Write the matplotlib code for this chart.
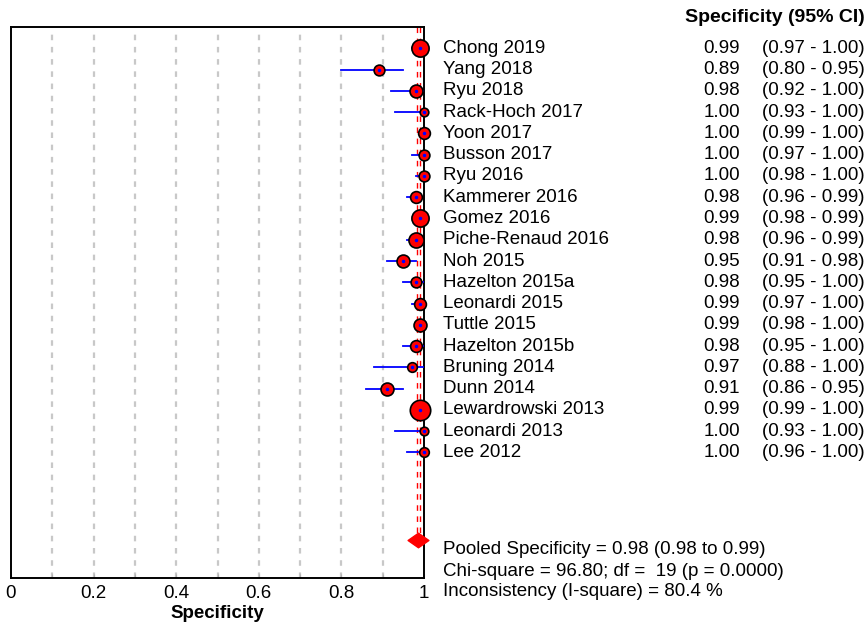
import matplotlib

matplotlib.use("Agg")
import matplotlib.pyplot as plt
import matplotlib.transforms as mtransforms
import numpy as np
from matplotlib.path import Path

plt.rcParams["font.family"] = ["Liberation Sans", "DejaVu Sans"]

studies = [
    "Chong 2019", "Yang 2018", "Ryu 2018", "Rack-Hoch 2017", "Yoon 2017",
    "Busson 2017", "Ryu 2016", "Kammerer 2016", "Gomez 2016", "Piche-Renaud 2016",
    "Noh 2015", "Hazelton 2015a", "Leonardi 2015", "Tuttle 2015", "Hazelton 2015b",
    "Bruning 2014", "Dunn 2014", "Lewardrowski 2013", "Leonardi 2013", "Lee 2012",
]
spec = [0.99, 0.89, 0.98, 1.00, 1.00, 1.00, 1.00, 0.98, 0.99, 0.98,
        0.95, 0.98, 0.99, 0.99, 0.98, 0.97, 0.91, 0.99, 1.00, 1.00]
ci_low = [0.97, 0.80, 0.92, 0.93, 0.99, 0.97, 0.98, 0.96, 0.98, 0.96,
          0.91, 0.95, 0.97, 0.98, 0.95, 0.88, 0.86, 0.99, 0.93, 0.96]
ci_high = [1.00, 0.95, 1.00, 1.00, 1.00, 1.00, 1.00, 0.99, 0.99, 0.99,
           0.98, 1.00, 1.00, 1.00, 1.00, 1.00, 0.95, 1.00, 1.00, 1.00]
# relative study weights (marker area)
weights = [6.4, 2.5, 3.6, 1.6, 3.0, 2.5, 2.5, 3.0, 6.4, 4.9,
           3.6, 2.5, 3.0, 3.6, 3.0, 2.0, 3.6, 9.0, 1.6, 2.0]

pooled = 0.985
pooled_lines = [0.983, 0.990]
stats_lines = [
    "Pooled Specificity = 0.98 (0.98 to 0.99)",
    "Chi-square = 96.80; df =  19 (p = 0.0000)",
    "Inconsistency (I-square) = 80.4 %",
]

W, H = 868, 624
fig = plt.figure(figsize=(W / 100, H / 100), dpi=100)
ax = fig.add_axes([11 / W, 1 - 578 / H, 413 / W, 551 / H])

rows = np.arange(len(studies))
pooled_row = 23.1

for x in np.arange(0.1, 0.95, 0.1):
    ax.axvline(x, color="#c8c8c8", lw=1.6, ls=(0, (2.5, 3)), zorder=1)
for x in pooled_lines:
    ax.plot([x, x], [-1, pooled_row], color="#ff0000", lw=1.0,
            ls=(0, (4, 4)), zorder=2)

for r, s, lo, hi, w in zip(rows, spec, ci_low, ci_high, weights):
    ax.plot([lo, hi], [r, r], color="#0000ff", lw=1.3, zorder=3)
    ax.plot(s, r, "o", ms=15.5 * np.sqrt(w / 10), mfc="#ff0000", mec="black",
            mew=1.2, zorder=4, clip_on=False)
    ax.plot(s, r, "o", ms=1.5, color="#0000ff", zorder=5, clip_on=False)

diamond = Path([(-1, 0), (0, 0.7), (1, 0), (0, -0.7), (-1, 0)],
               [Path.MOVETO, Path.LINETO, Path.LINETO, Path.LINETO, Path.CLOSEPOLY])
ax.plot(pooled, pooled_row, marker=diamond, ms=15, mfc="#ff0000", mec="#ff0000",
        zorder=5, clip_on=False)

fs = 13.5
ax.set_xlim(0, 1)
ax.set_ylim(24.9, -1)
ax.set_xticks(np.arange(0, 1.01, 0.1))
ax.set_xticklabels(["0", "", "0.2", "", "0.4", "", "0.6", "", "0.8", "", "1"])
ax.set_yticks([])
ax.tick_params(axis="x", direction="in", length=3, color="#b0b0b0",
               labelsize=fs, pad=5)
for sp in ax.spines.values():
    sp.set_linewidth(1.4)
ax.set_xlabel("Specificity", fontsize=fs, fontweight="bold", labelpad=2)

trans = mtransforms.blended_transform_factory(fig.transFigure, ax.transData)
for r, name, s, lo, hi in zip(rows, studies, spec, ci_low, ci_high):
    ax.text(443 / W, r, name, transform=trans, fontsize=fs, va="center", ha="left")
    ax.text(740 / W, r, f"{s:.2f}", transform=trans, fontsize=fs, va="center", ha="right")
    ax.text(865 / W, r, f"({lo:.2f} - {hi:.2f})", transform=trans, fontsize=fs,
            va="center", ha="right")

fig.text(865 / W, 1 - 18 / H, "Specificity (95% CI)", fontsize=14,
         fontweight="bold", ha="right", va="center")
for i, line in enumerate(stats_lines):
    fig.text(443 / W, 1 - (550 + 21 * i) / H, line, fontsize=fs, ha="left", va="center")

fig.savefig("out.png", dpi=100)
